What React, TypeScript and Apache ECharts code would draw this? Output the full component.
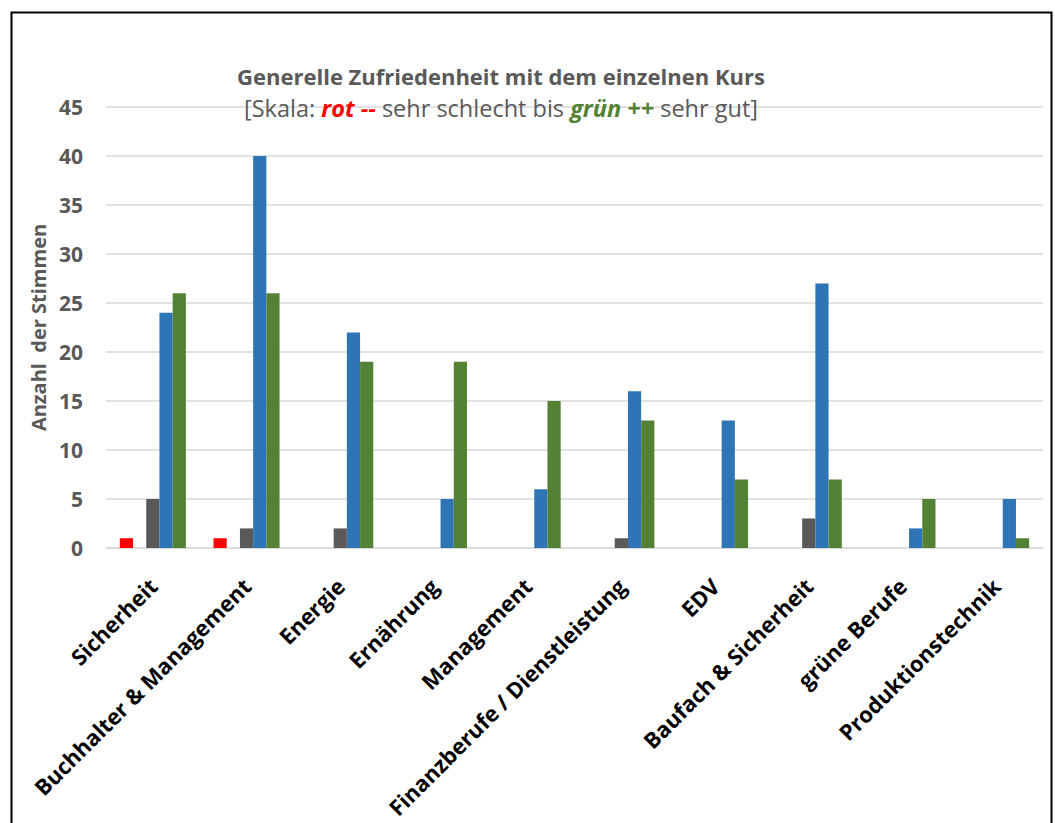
import React, { useEffect, useRef } from "react";
import * as echarts from "echarts";

const categories = [
  "Sicherheit",
  "Buchhalter & Management",
  "Energie",
  "Ernährung",
  "Management",
  "Finanzberufe / Dienstleistung",
  "EDV",
  "Baufach & Sicherheit",
  "grüne Berufe",
  "Produktionstechnik",
];
const seriesNames = ["--", "-", "o", "+", "++"];
const veryBad = [1, 1, 0, 0, 0, 0, 0, 0, 0, 0];
const bad = [0, 0, 0, 0, 0, 0, 0, 0, 0, 0];
const neutral = [5, 2, 2, 0, 0, 1, 0, 3, 0, 0];
const good = [24, 40, 22, 5, 6, 16, 13, 27, 2, 5];
const veryGood = [26, 26, 19, 19, 15, 13, 7, 7, 5, 1];
const seriesValues = [veryBad, bad, neutral, good, veryGood];
const seriesColors = ["#FF0000", "#ED7D31", "#595959", "#2E75B6", "#548235"];
const yTicks = { min: 0, max: 45, interval: 5 };

const FONT = "'Open Sans', sans-serif";

export default function App() {
  const ref = useRef<HTMLDivElement>(null);
  useEffect(() => {
    if (!ref.current) return;
    const chart = echarts.init(ref.current, null, { renderer: "svg" });
    const subSize = 23.5;
    chart.setOption({
      animation: false,
      backgroundColor: "#ffffff",
      textStyle: { fontFamily: FONT },
      title: {
        text: "Generelle Zufriedenheit mit dem einzelnen Kurs",
        subtext:
          "[Skala: {r|rot --} sehr schlecht bis {g|grün ++} sehr gut]",
        left: 496,
        textAlign: "center",
        top: 60,
        itemGap: 9,
        textStyle: {
          fontFamily: FONT,
          fontSize: 22,
          fontWeight: "bold",
          color: "#595959",
        },
        subtextStyle: {
          fontFamily: FONT,
          fontSize: subSize,
          color: "#595959",
          rich: {
            r: {
              fontFamily: FONT,
              fontSize: subSize,
              color: "#FF0000",
              fontWeight: "bold",
              fontStyle: "italic",
            },
            g: {
              fontFamily: FONT,
              fontSize: subSize,
              color: "#548235",
              fontWeight: "bold",
              fontStyle: "italic",
            },
          },
        },
      },
      graphic: [
        {
          type: "rect",
          shape: { x: 11.5, y: 12.5, width: 1040, height: 900 },
          style: { fill: "none", stroke: "#000000", lineWidth: 2 },
          silent: true,
        },
      ],
      grid: { left: 106, right: 12, top: 107, bottom: 275, containLabel: false },
      xAxis: {
        type: "category",
        data: categories,
        axisLine: { show: true, lineStyle: { color: "#D9D9D9", width: 1.5 } },
        axisTick: { show: false },
        axisLabel: {
          interval: 0,
          rotate: 45,
          margin: 34,
          fontFamily: FONT,
          fontSize: 22,
          fontWeight: "bold",
          color: "#000000",
        },
      },
      yAxis: {
        type: "value",
        min: yTicks.min,
        max: yTicks.max,
        interval: yTicks.interval,
        name: "Anzahl  der Stimmen",
        nameLocation: "middle",
        nameGap: 54,
        nameTextStyle: {
          fontFamily: FONT,
          fontSize: 20,
          fontWeight: "bold",
          color: "#595959",
        },
        axisLine: { show: false },
        axisTick: { show: false },
        splitLine: { lineStyle: { color: "#D9D9D9", width: 1.5 } },
        axisLabel: {
          margin: 23,
          fontFamily: FONT,
          fontSize: 21,
          fontWeight: "bold",
          color: "#595959",
        },
      },
      series: seriesNames.map((name, i) => ({
        name,
        type: "bar",
        data: seriesValues[i],
        barGap: "0%",
        barCategoryGap: "29.5%",
        itemStyle: { color: seriesColors[i] },
      })),
    });
    return () => chart.dispose();
  }, []);
  return (
    <div
      ref={ref}
      style={{ position: "absolute", left: 0, top: 0, width: 1055, height: 823 }}
    />
  );
}
